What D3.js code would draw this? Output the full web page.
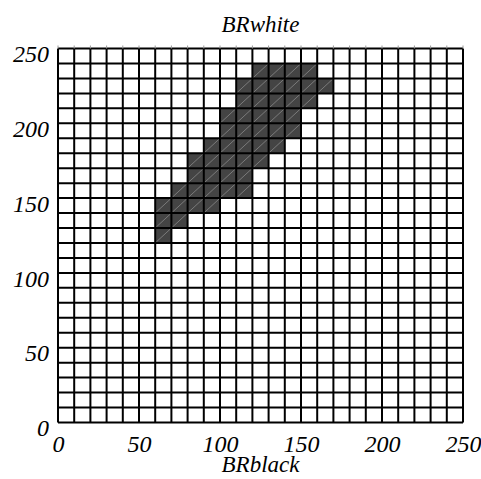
<!DOCTYPE html>
<html>
<head>
<meta charset="utf-8">
<script src="https://cdn.jsdelivr.net/npm/d3@7"></script>
<style>
  body { margin: 0; background: #fff; }
  text { font-family: "Liberation Serif", "DejaVu Serif", serif; font-style: italic; }
</style>
</head>
<body>
<div id="chart"></div>
<script>
// Data: filled bins (bin width 10), one row per BRwhite bin
const rowBins = [230, 220, 210, 200, 190, 180, 170, 160, 150, 140, 130, 120];
const rowFrom = [120, 110, 110, 100, 100, 90, 80, 80, 70, 60, 60, 60];
const rowTo   = [160, 170, 160, 150, 150, 140, 130, 120, 120, 100, 80, 70];
const binSize = 10;
const tickLabels = [0, 50, 100, 150, 200, 250];
const xTitle = "BRblack";
const yTitle = "BRwhite";

// Dimensions
const width = 481;
const height = 479;
const margin = { top: 48.5, right: 18, bottom: 56.5, left: 58 };

const svg = d3.select("#chart")
  .append("svg")
    .attr("width", width)
    .attr("height", height);

const xScale = d3.scaleLinear()
  .domain([0, 250])
  .range([margin.left, width - margin.right]);
const yScale = d3.scaleLinear()
  .domain([0, 250])
  .range([height - margin.bottom, margin.top]);

// Cells
const cells = [];
rowBins.forEach((y0, i) => {
  for (let x0 = rowFrom[i]; x0 < rowTo[i]; x0 += binSize) {
    cells.push({ x0, y0 });
  }
});

const cellG = svg.append("g").attr("class", "cells");
cellG.selectAll("rect")
  .data(cells)
  .join("rect")
    .attr("x", d => xScale(d.x0))
    .attr("y", d => yScale(d.y0 + binSize))
    .attr("width", d => xScale(d.x0 + binSize) - xScale(d.x0))
    .attr("height", d => yScale(d.y0) - yScale(d.y0 + binSize))
    .attr("fill", "#444");
cellG.selectAll("line")
  .data(cells)
  .join("line")
    .attr("x1", d => xScale(d.x0))
    .attr("y1", d => yScale(d.y0))
    .attr("x2", d => xScale(d.x0 + binSize))
    .attr("y2", d => yScale(d.y0 + binSize))
    .attr("stroke", "#888")
    .attr("stroke-width", 0.8);

// Grid lines
const gridValues = d3.range(0, 251, binSize);
const gridG = svg.append("g").attr("class", "grid");
gridG.selectAll(".vline")
  .data(gridValues)
  .join("line")
    .attr("class", "vline")
    .attr("x1", d => xScale(d))
    .attr("x2", d => xScale(d))
    .attr("y1", yScale(0))
    .attr("y2", yScale(250))
    .attr("stroke", "#000")
    .attr("stroke-width", 2);
gridG.selectAll(".hline")
  .data(gridValues)
  .join("line")
    .attr("class", "hline")
    .attr("y1", d => yScale(d))
    .attr("y2", d => yScale(d))
    .attr("x1", xScale(0))
    .attr("x2", xScale(250))
    .attr("stroke", "#000")
    .attr("stroke-width", 2);

// small ticks on top edge
gridG.selectAll(".tick-top")
  .data(gridValues)
  .join("line")
    .attr("class", "tick-top")
    .attr("x1", d => xScale(d))
    .attr("x2", d => xScale(d))
    .attr("y1", yScale(250) - 3)
    .attr("y2", yScale(250))
    .attr("stroke", "#999")
    .attr("stroke-width", 1);

// Axes labels
const bottomAxis = d3.axisBottom(xScale)
  .tickValues(tickLabels)
  .tickSize(0)
  .tickPadding(12);
const xAxisG = svg.append("g")
    .attr("transform", `translate(0, ${yScale(0)})`)
    .call(bottomAxis);
xAxisG.select(".domain").remove();
xAxisG.selectAll("text")
  .attr("font-size", 24)
  .attr("fill", "#000");

const leftAxis = d3.axisLeft(yScale)
  .tickValues(tickLabels)
  .tickSize(0)
  .tickPadding(9);
const yAxisG = svg.append("g")
    .attr("transform", `translate(${xScale(0)}, 0)`)
    .call(leftAxis);
yAxisG.select(".domain").remove();
yAxisG.selectAll("text")
  .attr("font-size", 24)
  .attr("dy", "0.55em")
  .attr("fill", "#000");

svg.append("text")
    .attr("x", (xScale(0) + xScale(250)) / 2)
    .attr("y", 32)
    .attr("text-anchor", "middle")
    .attr("font-size", 23)
    .text(yTitle);
svg.append("text")
    .attr("x", (xScale(0) + xScale(250)) / 2)
    .attr("y", 472)
    .attr("text-anchor", "middle")
    .attr("font-size", 23)
    .text(xTitle);
</script>
</body>
</html>
